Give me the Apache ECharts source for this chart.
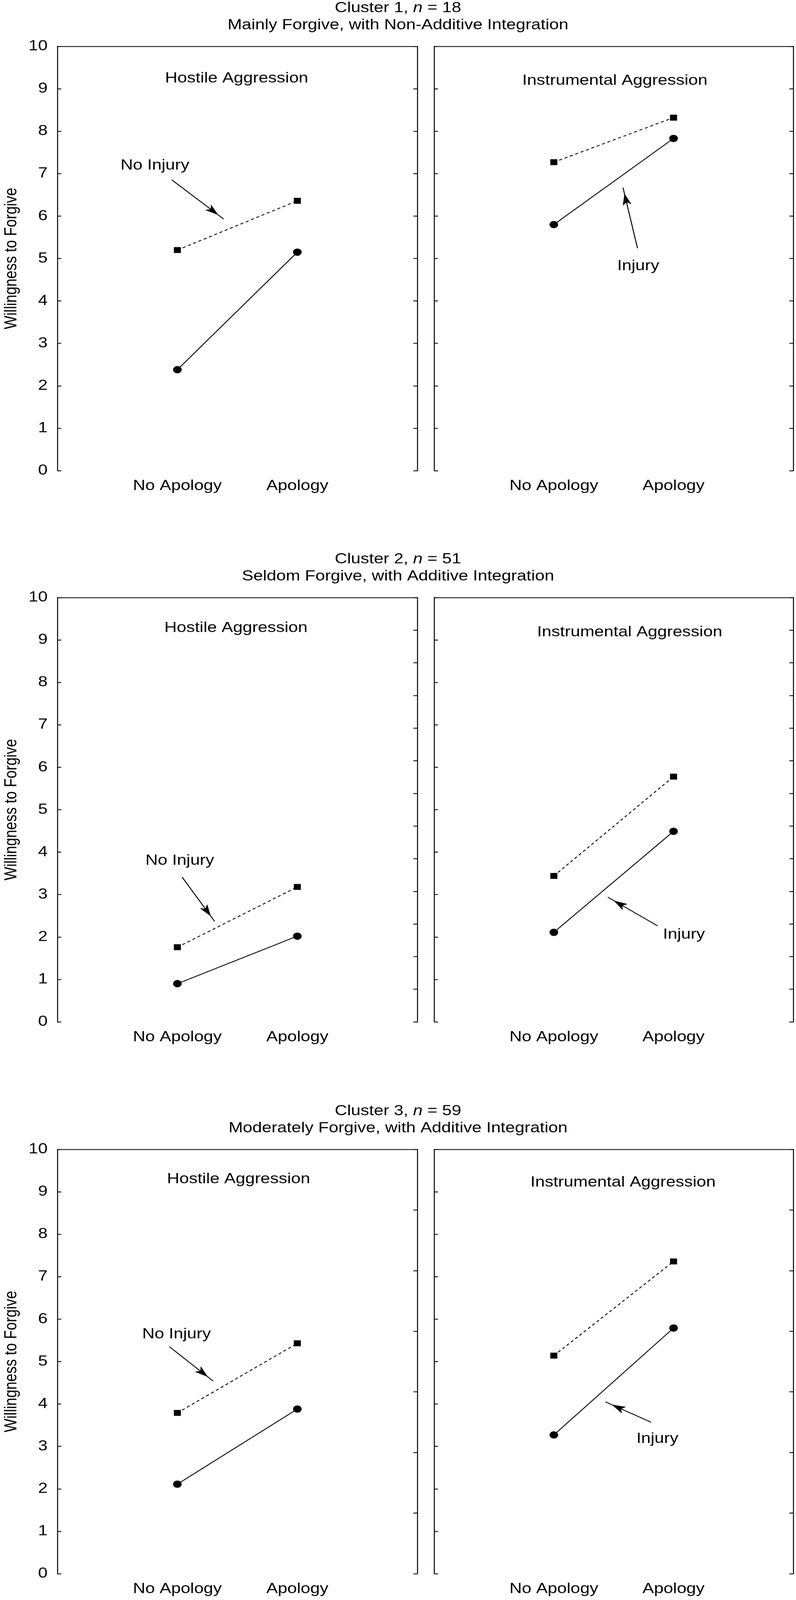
<!DOCTYPE html>
<html><head><meta charset="utf-8">
<script src="https://cdn.jsdelivr.net/npm/echarts@6/dist/echarts.min.js"></script>
<style>html,body{margin:0;padding:0;background:#fff;overflow:hidden}#c{width:2039px;height:4868px;transform-origin:0 0}</style>
</head><body><div id="c"></div>
<script>
// ---------- data ----------
const categories = ['No Apology', 'Apology'];
const clusterNames = ['Cluster 1', 'Cluster 2', 'Cluster 3'];
const clusterN = [18, 51, 59];
const clusterSubtitles = [
  'Mainly Forgive, with Non-Additive Integration',
  'Seldom Forgive, with Additive Integration',
  'Moderately Forgive, with Additive Integration'
];
const panelNames = ['Hostile Aggression', 'Instrumental Aggression'];
const seriesNames = ['No Injury', 'Injury'];
const yAxisName = 'Willingness to Forgive';

const c1HostileNoInjury = [5.20, 6.36];
const c1HostileInjury = [2.38, 5.15];
const c1InstrumentalNoInjury = [7.27, 8.32];
const c1InstrumentalInjury = [5.80, 7.83];

const c2HostileNoInjury = [1.76, 3.18];
const c2HostileInjury = [0.90, 2.02];
const c2InstrumentalNoInjury = [3.44, 5.78];
const c2InstrumentalInjury = [2.11, 4.49];

const c3HostileNoInjury = [3.79, 5.43];
const c3HostileInjury = [2.11, 3.88];
const c3InstrumentalNoInjury = [5.14, 7.36];
const c3InstrumentalInjury = [3.27, 5.79];

// ---------- layout / annotation config (data-space) ----------
const panelValues = [
  [[c1HostileNoInjury, c1HostileInjury], [c1InstrumentalNoInjury, c1InstrumentalInjury]],
  [[c2HostileNoInjury, c2HostileInjury], [c2InstrumentalNoInjury, c2InstrumentalInjury]],
  [[c3HostileNoInjury, c3HostileInjury], [c3InstrumentalNoInjury, c3InstrumentalInjury]]
];
const rightTickMax = [10, 13, 7];
const gridTops = [141, 1818, 3497];
const GRID_H = 1291;
const panelLeft = [147, 1112];
const panelWidth = [922, 920];

const annotations = [
  [ { title: [1.494, 9.24], label: 0, text: [0.813, 7.19], arrow: [[0.953, 6.855], [1.386, 5.93]] },
    { title: [1.51, 9.19],  label: 1, text: [1.705, 4.82], arrow: [[1.699, 5.24], [1.578, 6.67]] } ],
  [ { title: [1.488, 9.28], label: 0, text: [1.02, 3.80],  arrow: [[1.040, 3.41], [1.310, 2.37]] },
    { title: [1.634, 9.18], label: 1, text: [2.087, 2.05], arrow: [[1.868, 2.26], [1.451, 2.94]] } ],
  [ { title: [1.51, 9.30],  label: 0, text: [0.993, 5.64], arrow: [[0.934, 5.35], [1.298, 4.54]] },
    { title: [1.578, 9.22], label: 1, text: [1.865, 3.18], arrow: [[1.812, 3.57], [1.431, 4.05]] } ]
];

const FONT = "'Liberation Sans', Arial, Helvetica, sans-serif";
const FS = 44;
const LW = 2.5;
const BLACK = '#000';
const ARROW = [17, 36];

const option = {
  animation: false,
  backgroundColor: '#fff',
  title: [], grid: [], xAxis: [], yAxis: [], series: []
};

for (let c = 0; c < 3; c++) {
  option.title.push({
    left: 'center',
    top: gridTops[c] - 142,
    padding: 0,
    text: '{a|' + clusterNames[c] + ', }{i|n}{a| = ' + clusterN[c] + '}\n{a|' + clusterSubtitles[c] + '}',
    textStyle: {
      fontFamily: FONT, fontSize: FS, fontWeight: 'normal', color: BLACK, lineHeight: 52,
      rich: {
        a: { fontFamily: FONT, fontSize: FS, color: BLACK, lineHeight: 52 },
        i: { fontFamily: FONT, fontSize: FS, color: BLACK, fontStyle: 'italic', lineHeight: 52 }
      }
    }
  });
  for (let p = 0; p < 2; p++) {
    const gi = option.grid.length;
    option.grid.push({ left: panelLeft[p], top: gridTops[c], width: panelWidth[p], height: GRID_H, containLabel: false });
    // bottom x axis: labels only (no bottom border in the original)
    option.xAxis.push({
      type: 'value', gridIndex: gi, position: 'bottom', min: 0, max: 3, interval: 1,
      axisLine: { show: false, onZero: false }, axisTick: { show: false }, splitLine: { show: false },
      axisLabel: {
        show: true, margin: 25, fontFamily: FONT, fontSize: FS, color: BLACK,
        formatter: v => (v >= 1 && v <= categories.length && Number.isInteger(v)) ? categories[v - 1] : ''
      }
    });
    // top x axis: border line only
    option.xAxis.push({
      type: 'value', gridIndex: gi, position: 'top', min: 0, max: 3, interval: 1,
      axisLine: { show: true, onZero: false, lineStyle: { color: BLACK, width: LW } },
      axisTick: { show: false }, axisLabel: { show: false }, splitLine: { show: false }
    });
    // left y axis
    option.yAxis.push({
      type: 'value', gridIndex: gi, position: 'left', min: 0, max: 10, interval: 1,
      name: p === 0 ? yAxisName : '', nameLocation: 'middle', nameGap: 95, nameRotate: 90,
      nameTextStyle: { fontFamily: FONT, fontSize: FS, color: BLACK },
      axisLine: { show: true, onZero: false, lineStyle: { color: BLACK, width: LW } },
      axisTick: { show: true, inside: true, length: 10, lineStyle: { color: BLACK, width: LW } },
      axisLabel: { show: p === 0, margin: 25, fontFamily: FONT, fontSize: FS, color: BLACK },
      splitLine: { show: false }
    });
    // right y axis (border with its own ticks)
    option.yAxis.push({
      type: 'value', gridIndex: gi, position: 'right', min: 0, max: rightTickMax[c], interval: 1,
      axisLine: { show: true, onZero: false, lineStyle: { color: BLACK, width: LW } },
      axisTick: { show: true, inside: true, length: 10, lineStyle: { color: BLACK, width: LW } },
      axisLabel: { show: false }, splitLine: { show: false }
    });
    const xi = gi * 2, yi = gi * 2;
    const vals = panelValues[c][p];
    const ann = annotations[c][p];
    option.series.push({
      type: 'line', name: seriesNames[0], xAxisIndex: xi, yAxisIndex: yi,
      data: categories.map((k, i) => [i + 1, vals[0][i]]),
      symbol: 'rect', symbolSize: 18, showSymbol: true,
      lineStyle: { color: BLACK, width: LW, type: [8, 7] },
      itemStyle: { color: BLACK, borderWidth: 0 },
      silent: true, z: 3
    });
    option.series.push({
      type: 'line', name: seriesNames[1], xAxisIndex: xi, yAxisIndex: yi,
      data: categories.map((k, i) => [i + 1, vals[1][i]]),
      symbol: 'circle', symbolSize: 22, showSymbol: true,
      lineStyle: { color: BLACK, width: LW, type: 'solid' },
      itemStyle: { color: BLACK, borderWidth: 0 },
      silent: true, z: 3,
      markPoint: {
        silent: true, symbol: 'circle', symbolSize: 1,
        itemStyle: { color: 'rgba(0,0,0,0)' },
        label: { show: true, position: 'inside', fontFamily: FONT, fontSize: FS, color: BLACK },
        data: [
          { coord: ann.title, label: { formatter: panelNames[p] } },
          { coord: ann.text, label: { formatter: seriesNames[ann.label] } }
        ]
      },
      markLine: {
        silent: true, symbol: ['none', 'arrow'], symbolSize: ARROW,
        symbolOffset: [[0, 0], [0, ARROW[1] / 2]],
        label: { show: false },
        lineStyle: { color: BLACK, width: LW, type: 'solid' },
        data: [[{ coord: ann.arrow[0] }, { coord: ann.arrow[1] }]]
      }
    });
  }
}

// the photograph may use a shorter viewport than the requested height: fit the whole figure in it
const el = document.getElementById('c');
const vh = window.innerHeight || 4868;
const sy = Math.min(1, vh / 4868);
if (sy < 1) el.style.transform = 'scaleY(' + sy + ')';

const chart = echarts.init(el, null, { renderer: 'canvas' });
chart.setOption(option);
</script>
</body></html>
